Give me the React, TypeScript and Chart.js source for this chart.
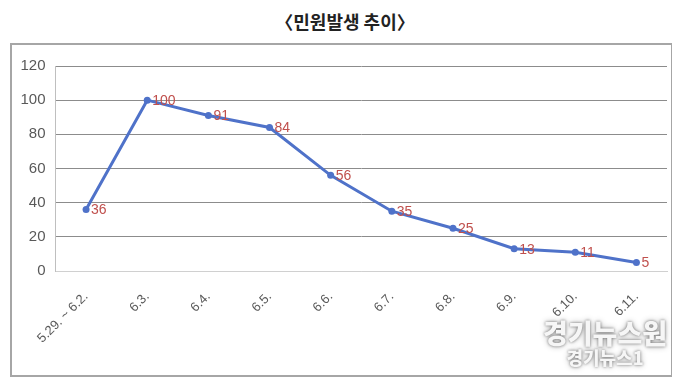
import React, { useEffect, useRef } from "react";
import { Chart, registerables } from "chart.js";

Chart.register(...registerables);

const categories = ["5.29. ~ 6.2.", "6.3.", "6.4.", "6.5.", "6.6.", "6.7.", "6.8.", "6.9.", "6.10.", "6.11."];
const complaints = [36, 100, 91, 84, 56, 35, 25, 13, 11, 5];
const yTicks = [0, 20, 40, 60, 80, 100, 120];
const title = "〈민원발생 추이〉";

const labelPlugin = {
  id: "valueLabels",
  afterDatasetsDraw(chart: any) {
    const ctx = chart.ctx;
    const meta = chart.getDatasetMeta(0);
    ctx.save();
    ctx.fillStyle = "#c0504d";
    ctx.font = "14px 'Liberation Sans Narrow', 'Liberation Sans', sans-serif";
    ctx.textAlign = "left";
    ctx.textBaseline = "middle";
    meta.data.forEach((pt: any, i: number) => {
      ctx.fillText(String(complaints[i]), pt.x + 5, pt.y + 1);
    });
    ctx.restore();
  },
};

export default function App() {
  const ref = useRef<HTMLCanvasElement | null>(null);
  useEffect(() => {
    if (!ref.current) return;
    const chart = new Chart(ref.current, {
      type: "line",
      data: {
        labels: categories,
        datasets: [
          {
            data: complaints,
            borderColor: "#4f72c9",
            backgroundColor: "#4f72c9",
            borderWidth: 3,
            pointRadius: 3.5,
            pointBorderWidth: 0,
            pointBackgroundColor: "#4f72c9",
            tension: 0,
          },
        ],
      },
      options: {
        responsive: false,
        animation: false,
        layout: { padding: { top: 21, right: 4, left: 0, bottom: 0 } },
        plugins: { legend: { display: false }, tooltip: { enabled: false } },
        scales: {
          x: {
            offset: true,
            grid: { display: false },
            border: { display: true, color: "#d0d0d0", width: 1 },
            ticks: {
              color: "#595959",
              font: { size: 13, family: "'Liberation Sans Narrow', 'Liberation Sans', sans-serif" },
              minRotation: 45,
              maxRotation: 45,
              padding: 10,
            },
            afterFit: (s: any) => {
              s.height = 104;
            },
          },
          y: {
            min: 0,
            max: 120,
            afterBuildTicks: (s: any) => {
              s.ticks = yTicks.map((v) => ({ value: v }));
            },
            grid: {
              color: (c: any) => (c.tick && c.tick.value === 0 ? "#d0d0d0" : "#8c8c8c"),
              lineWidth: 1,
              drawTicks: false,
            },
            border: { display: true, color: "#bfbfbf", width: 1 },
            ticks: {
              color: "#595959",
              font: { size: 15, family: "'Liberation Sans Narrow', 'Liberation Sans', sans-serif" },
              padding: 10,
            },
            afterFit: (s: any) => {
              s.width = 43.5;
            },
          },
        },
      },
      plugins: [labelPlugin],
    });
    return () => chart.destroy();
  }, []);

  return (
    <div style={{ position: "relative", width: 664, height: 381 }}>
      <div
        style={{
          position: "absolute",
          left: 0,
          top: 0,
          width: 674,
          textAlign: "center",
          fontFamily: "'Noto Sans CJK KR', sans-serif",
          fontWeight: 700,
          fontSize: 18,
          lineHeight: "26px",
          color: "#222",
        }}
      >
        {title}
      </div>
      <div
        style={{
          position: "absolute",
          left: 2,
          top: 35,
          width: 659,
          height: 330,
          border: "2px solid #a6a6a6",
        }}
      >
        <canvas ref={ref} width={659} height={330} style={{ display: "block" }} />
      </div>
      <div
        style={{
          position: "absolute",
          left: 532,
          top: 310,
          width: 130,
          textAlign: "center",
          fontFamily: "'Noto Sans CJK KR', sans-serif",
          fontWeight: 900,
          color: "#f6f6f6",
          textShadow: "0 0 3px rgba(0,0,0,0.5), 0 0 6px rgba(0,0,0,0.3)",
          lineHeight: 1.1,
        }}
      >
        <div style={{ fontSize: 27 }}>경기뉴스원</div>
        <div style={{ fontSize: 18 }}>경기뉴스1</div>
      </div>
    </div>
  );
}
